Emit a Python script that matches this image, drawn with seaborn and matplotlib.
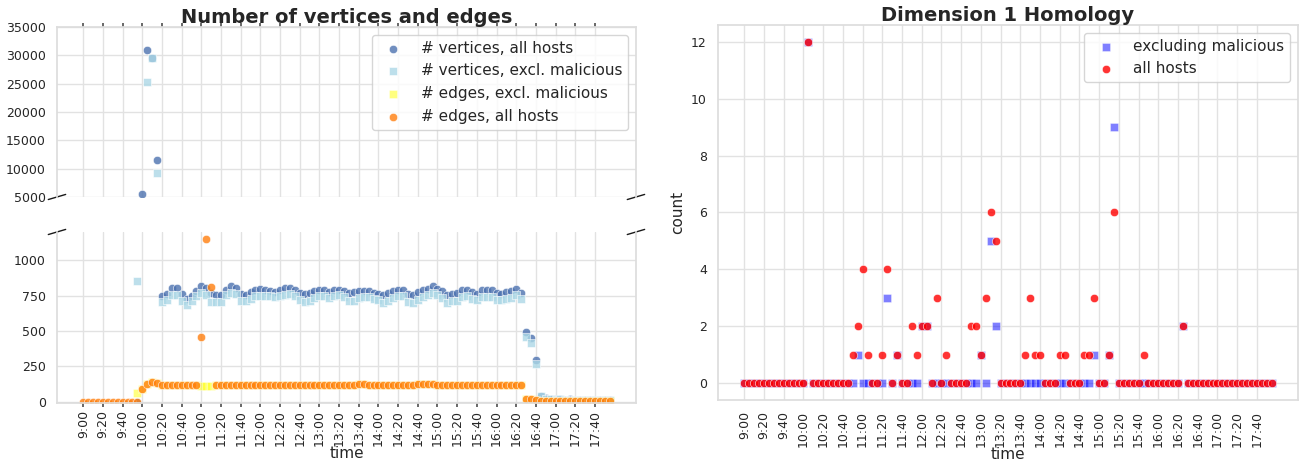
import numpy as np
import pandas as pd
import matplotlib.pyplot as plt
import seaborn as sns

nan = np.nan

# sample times, one every 5 minutes from 9:00 to 17:55
times = [f"{h}:{m:02d}" for h in range(9, 18) for m in range(0, 60, 5)]

tick_labels = ['9:00', '9:20', '9:40', '10:00', '10:20', '10:40', '11:00', '11:20', '11:40',
               '12:00', '12:20', '12:40', '13:00', '13:20', '13:40', '14:00', '14:20', '14:40',
               '15:00', '15:20', '15:40', '16:00', '16:20', '16:40', '17:00', '17:20', '17:40']

# left panel: number of vertices and edges (one row per hour)
vertices_all = [
    nan, nan, nan, nan, nan, nan, nan, nan, nan, nan, nan, 0,
    5600, 31000, 29600, 11500, 745, 764, 805, 805, 762, 729, 745, 781,
    821, 805, 769, 757, 757, 793, 821, 805, 764, 757, 774, 788,
    795, 793, 781, 776, 786, 805, 805, 786, 769, 764, 769, 781,
    788, 786, 776, 793, 793, 781, 769, 776, 781, 781, 781, 769,
    762, 757, 769, 781, 786, 788, 764, 757, 776, 786, 798, 817,
    798, 781, 757, 764, 766, 786, 786, 776, 762, 786, 786, 786,
    769, 764, 774, 781, 798, 769, 495, 448, 293, 40, 22, 18,
    15, 20, 14, 16, 12, 14, 13, 12, 11, 12, 10, 10,
]
vertices_excl = [
    nan, nan, nan, nan, nan, nan, nan, nan, nan, nan, nan, 850,
    nan, 25300, 29500, 9300, 702, 721, 757, 757, 710, 681, 710, 745,
    769, 752, 702, 702, 702, 757, 769, 762, 710, 710, 729, 745,
    750, 750, 745, 740, 745, 757, 760, 745, 720, 705, 710, 730,
    745, 745, 730, 750, 752, 740, 712, 715, 735, 738, 740, 725,
    718, 700, 712, 730, 745, 748, 705, 700, 722, 740, 752, 770,
    755, 735, 695, 710, 712, 740, 745, 728, 716, 740, 742, 740,
    722, 718, 728, 735, 752, 728, 460, 412, 264, 38, 18, 15,
    12, 18, 11, 13, 10, 12, 11, 10, 9, 10, 8, 8,
]
edges_excl = [
    nan, nan, nan, nan, nan, nan, nan, nan, nan, nan, nan, 62,
    92, 128, 140, 135, 116, 115, 118, 119, 118, 118, 117, 118,
    112, 112, 112, 118, 118, 119, 118, 117, 118, 117, 118, 119,
    118, 119, 118, 117, 118, 118, 117, 118, 119, 118, 118, 119,
    120, 119, 118, 118, 117, 118, 119, 120, 121, 122, 120, 118,
    117, 118, 118, 119, 118, 117, 119, 120, 121, 121, 122, 121,
    120, 119, 118, 117, 118, 118, 119, 118, 117, 117, 118, 119,
    119, 118, 118, 117, 118, 117, 18, 16, 12, 7, 6, 6,
    5, 6, 5, 5, 6, 5, 5, 5, 4, 5, 5, 4,
]
edges_all = [
    0, 0, 0, 0, 0, 0, 0, 0, 0, 0, 0, 0,
    92, 128, 140, 135, 116, 115, 118, 119, 118, 118, 117, 118,
    455, 1150, 808, 118, 118, 119, 118, 117, 118, 117, 118, 119,
    118, 119, 118, 117, 118, 118, 117, 118, 119, 118, 118, 119,
    120, 119, 118, 118, 117, 118, 119, 120, 121, 122, 120, 118,
    117, 118, 118, 119, 118, 117, 119, 120, 121, 121, 122, 121,
    120, 119, 118, 117, 118, 118, 119, 118, 117, 117, 118, 119,
    119, 118, 118, 117, 118, 117, 18, 16, 12, 7, 6, 6,
    5, 6, 5, 5, 6, 5, 5, 5, 4, 5, 5, 4,
]

# right panel: dimension 1 homology counts
h1_excl = [
    0, 0, 0, 0, 0, 0, 0, 0, 0, 0, 0, 0,
    0, 12, 0, 0, 0, 0, 0, 0, 0, 0, 0, 1,
    0, 0, 0, 0, 0, 3, 0, 1, 0, 0, 0, 0,
    2, 2, 0, 0, 0, 0, 0, 0, 0, 0, 0, 0,
    1, 0, 5, 2, 0, 0, 0, 0, 0, 0, 0, 0,
    0, 0, 0, 0, 0, 0, 0, 0, 0, 0, 0, 1,
    0, 0, 1, 9, 0, 0, 0, 0, 0, 0, 0, 0,
    0, 0, 0, 0, 0, 2, 0, 0, 0, 0, 0, 0,
    0, 0, 0, 0, 0, 0, 0, 0, 0, 0, 0, 0,
]
h1_all = [
    0, 0, 0, 0, 0, 0, 0, 0, 0, 0, 0, 0,
    0, 12, 0, 0, 0, 0, 0, 0, 0, 0, 1, 2,
    4, 1, 0, 0, 1, 4, 0, 1, 0, 0, 2, 1,
    2, 2, 0, 3, 0, 1, 0, 0, 0, 0, 2, 2,
    1, 3, 6, 5, 0, 0, 0, 0, 0, 1, 3, 1,
    1, 0, 0, 0, 1, 1, 0, 0, 0, 1, 1, 3,
    0, 0, 1, 6, 0, 0, 0, 0, 0, 1, 0, 0,
    0, 0, 0, 0, 0, 2, 0, 0, 0, 0, 0, 0,
    0, 0, 0, 0, 0, 0, 0, 0, 0, 0, 0, 0,
]

df = pd.DataFrame({'time': times, 'v_all': vertices_all, 'v_excl': vertices_excl,
                   'e_excl': edges_excl, 'e_all': edges_all,
                   'h1_excl': h1_excl, 'h1_all': h1_all})
df['idx'] = range(len(df))
tick_pos = [times.index(t) for t in tick_labels]

sns.set_theme(style='whitegrid', rc={'grid.color': '#e2e2e2', 'axes.edgecolor': '#dddddd'})

fig = plt.figure(figsize=(13.04, 4.61), dpi=100)
ax_top = fig.add_axes([0.0437, 0.5727, 0.444, 0.3688])
ax_bot = fig.add_axes([0.0437, 0.1258, 0.444, 0.3710], sharex=ax_top)
ax_r = fig.add_axes([0.5506, 0.1323, 0.4448, 0.8135])

series = [
    ('v_all', 'o', '#4c72b0', 0.8, '# vertices, all hosts'),
    ('v_excl', 's', 'lightblue', 0.8, '# vertices, excl. malicious'),
    ('e_excl', 's', 'yellow', 0.5, '# edges, excl. malicious'),
    ('e_all', 'o', '#ff7f0e', 0.8, '# edges, all hosts'),
]
for ax in [ax_top, ax_bot]:
    for col, mk, c, a, lab in series:
        sns.scatterplot(data=df, x='idx', y=col, ax=ax, marker=mk, color=c,
                        alpha=a, s=36, label=lab if ax is ax_top else None)
    ax.set_ylabel('')

ax_top.set_ylim(5000, 35000)
ax_bot.set_ylim(-10, 1200)
ax_bot.set_yticks([0, 250, 500, 750, 1000])

ax_top.spines['bottom'].set_visible(False)
ax_bot.spines['top'].set_visible(False)
ax_top.xaxis.tick_top()
ax_top.tick_params(axis='x', labeltop=False, labelbottom=False, length=3, color='#555555')
ax_bot.xaxis.tick_bottom()
ax_bot.set_xticks(tick_pos)
ax_bot.set_xticklabels(tick_labels, rotation=90)
ax_bot.tick_params(axis='x', length=3, color='#555555')
ax_top.set_xlabel('')
ax_bot.set_xlabel('time', fontsize=11, labelpad=0)
for ax in [ax_top, ax_bot]:
    ax.tick_params(labelsize=9, pad=2)

# diagonal marks for the broken axis
d = .015
kw = dict(transform=ax_top.transAxes, color='k', clip_on=False, lw=1)
ax_top.plot((-d, +d), (-d, +d), **kw)
ax_top.plot((1 - d, 1 + d), (-d, +d), **kw)
kw.update(transform=ax_bot.transAxes)
ax_bot.plot((-d, +d), (1 - d, 1 + d), **kw)
ax_bot.plot((1 - d, 1 + d), (1 - d, 1 + d), **kw)

ax_top.legend(loc='upper right', fontsize=11)
ax_top.set_title('Number of vertices and edges', fontsize=14, fontweight='bold', pad=3)

# right panel
sns.scatterplot(data=df, x='idx', y='h1_excl', ax=ax_r, marker='s', color='blue',
                alpha=0.5, s=36, label='excluding malicious')
sns.scatterplot(data=df, x='idx', y='h1_all', ax=ax_r, marker='o', color='red',
                alpha=0.8, s=36, label='all hosts')
ax_r.set_xticks(tick_pos)
ax_r.set_xticklabels(tick_labels, rotation=90)
ax_r.set_xlabel('time', fontsize=11, labelpad=0)
ax_r.set_ylabel('count', fontsize=11)
ax_r.tick_params(labelsize=9, pad=2)
ax_r.legend(loc='upper right', fontsize=11)
ax_r.set_title('Dimension 1 Homology', fontsize=14, fontweight='bold', pad=3)

fig.savefig('out.png', dpi=100)
